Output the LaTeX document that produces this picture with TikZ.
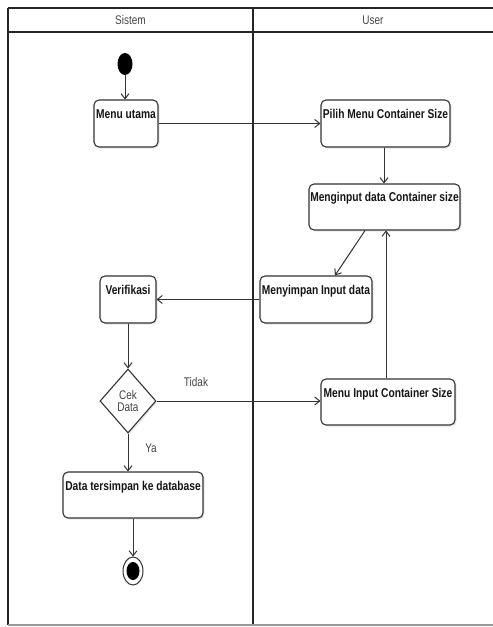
\documentclass[tikz,border=0pt]{standalone}
\usepackage{fontspec}
\setmainfont{Liberation Sans}[FakeStretch=0.8]
\usetikzlibrary{arrows.meta,shapes.geometric,shadows}

\definecolor{edge}{HTML}{333333}
\definecolor{txt}{HTML}{151515}
\definecolor{soft}{HTML}{444444}

\begin{document}
\begin{tikzpicture}[x=1pt,y=-1pt,
  font=\fontsize{12.5}{14}\selectfont,
  actbox/.style={draw=edge, line width=1.1pt, rounded corners=5pt, fill=white,
    inner sep=0pt, drop shadow={opacity=0.18, shadow xshift=1.5pt, shadow yshift=-1.5pt}},
  actlabel/.style={anchor=north, yshift=-10pt, inner sep=0pt, text=txt, font=\fontsize{12.8}{14}\selectfont\bfseries},
  decide/.style={diamond, draw=edge, line width=1.1pt, fill=white, inner sep=0pt,
    minimum width=56pt, minimum height=64pt, align=center, text=soft,
    drop shadow={opacity=0.18, shadow xshift=1.5pt, shadow yshift=-1.5pt}},
  flow/.style={draw=edge, line width=1pt, -{Straight Barb[length=5pt,width=8pt]}},
  lane/.style={draw=black!85, line width=1.5pt},
  guard/.style={text=soft, inner sep=0pt}
]
\useasboundingbox (0,0) rectangle (493,627);

% swimlane frame
\draw[lane] (8,8) -- (493,8);
\draw[lane] (8,32) -- (493,32);
\draw[lane] (8,8) -- (8,625);
\draw[lane] (253,8) -- (253,625);
\draw[draw=black!40, line width=1.2pt] (8,625) -- (493,625);
\node[guard] (lanesys) at (130.5,20) {Sistem};
\node[guard] (laneuser) at (373,20) {User};

% start and end
\node[ellipse, fill=black, minimum width=15pt, minimum height=22pt, inner sep=0pt] (start) at (125,64) {};
\node[ellipse, draw=edge, line width=1pt, fill=white, minimum width=20pt, minimum height=28pt, inner sep=0pt] (final) at (133,571) {};
\node[ellipse, fill=black, minimum width=13pt, minimum height=18pt, inner sep=0pt] (finaldot) at (final.center) {};

% activities
\node[actbox, minimum width=64pt, minimum height=47pt, label={[actlabel]north:Menu utama}] (menu) at (126,123.5) {};
\node[actbox, minimum width=129pt, minimum height=47pt, label={[actlabel]north:Pilih Menu Container Size}] (pilih) at (385.5,123.5) {};
\node[actbox, minimum width=151pt, minimum height=46pt, label={[actlabel, yshift=1pt]north:Menginput data Container size}] (input) at (384.5,207) {};
\node[actbox, minimum width=112pt, minimum height=47pt, label={[actlabel]north:Menyimpan Input data}] (simpan) at (316,299.5) {};
\node[actbox, minimum width=56pt, minimum height=47pt, label={[actlabel]north:Verifikasi}] (verif) at (128,299.5) {};
\node[decide] (cek) at (128,401) {Cek\\[-2pt]Data};
\node[actbox, minimum width=134pt, minimum height=46pt, label={[actlabel]north:Menu Input Container Size}] (menuinput) at (388,402) {};
\node[actbox, minimum width=140pt, minimum height=46pt, label={[actlabel]north:Data tersimpan ke database}] (data) at (133,495) {};

% control flow
\draw[flow] (start.south) -- (start.south |- menu.north);
\draw[flow] (menu.east) -- (menu.east -| pilih.west);
\draw[flow] ([xshift=-1.5pt]pilih.south) -- ([xshift=-1.5pt]pilih.south |- input.north);
\draw[flow] ([xshift=-19.5pt]input.south) -- ([xshift=19pt]simpan.north);
\draw[flow] (simpan.west) -- (simpan.west -| verif.east);
\draw[flow] (verif.south) -- (cek.north);
\draw[flow] (cek.east) -- (cek.east -| menuinput.west);
\draw[flow] ([xshift=-2pt]menuinput.north) -- ([xshift=-2pt]menuinput.north |- input.south);
\draw[flow] (cek.south) -- (cek.south |- data.north);
\draw[flow] (data.south) -- (final.north);

% guards
\node[guard] (tidak) at (196,382) {Tidak};
\node[guard] (ya) at (151,448) {Ya};
\end{tikzpicture}
\end{document}
